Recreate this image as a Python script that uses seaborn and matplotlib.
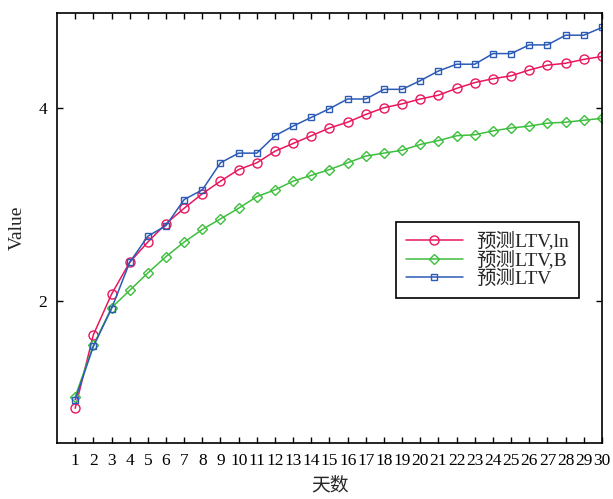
import matplotlib
matplotlib.use("Agg")
import matplotlib.pyplot as plt
import seaborn as sns
import pandas as pd

sns.set_theme(style="ticks")
plt.rcParams['font.family'] = ['Liberation Serif', 'Noto Sans CJK SC']

days = list(range(1, 31))
ltv_ln = [0.89, 1.65, 2.07, 2.40, 2.61, 2.80, 2.96, 3.11, 3.24, 3.36,
          3.43, 3.55, 3.63, 3.71, 3.79, 3.85, 3.93, 4.00, 4.04, 4.09,
          4.13, 4.20, 4.26, 4.30, 4.33, 4.39, 4.44, 4.46, 4.50, 4.53]
ltv_b = [1.01, 1.54, 1.93, 2.11, 2.29, 2.46, 2.61, 2.74, 2.85, 2.96,
         3.08, 3.15, 3.24, 3.30, 3.36, 3.43, 3.50, 3.53, 3.56, 3.62,
         3.66, 3.71, 3.72, 3.76, 3.79, 3.81, 3.84, 3.85, 3.87, 3.89]
ltv = [0.98, 1.53, 1.92, 2.40, 2.67, 2.78, 3.05, 3.15, 3.43, 3.53,
       3.53, 3.71, 3.81, 3.90, 3.99, 4.09, 4.09, 4.19, 4.19, 4.28,
       4.38, 4.45, 4.45, 4.56, 4.56, 4.65, 4.65, 4.75, 4.75, 4.83]

series = [
    ("预测LTV,ln", ltv_ln, "#E8175D", "o", 6.5),
    ("预测LTV,B", ltv_b, "#3DBE3D", "D", 5),
    ("预测LTV", ltv, "#2B5BB5", "s", 4.5),
]

fig = plt.figure(figsize=(6.13, 4.99), dpi=100)
ax = fig.add_axes([0.093, 0.112, 0.889, 0.862])

for name, vals, color, mk, ms in series:
    df = pd.DataFrame({"day": days, "value": vals})
    sns.lineplot(data=df, x="day", y="value", ax=ax, color=color, linewidth=1.1,
                 marker=mk, markersize=ms, markerfacecolor="none",
                 markeredgecolor=color, markeredgewidth=1.0, label=name)

ax.set_xlim(0, 30)
ax.set_ylim(0.53, 4.98)
ax.set_xticks(days)
ax.set_xticklabels([str(d) for d in days], fontsize=12.5)
ax.set_yticks([2, 4])
ax.set_yticklabels(["2", "4"], fontsize=12.5)
ax.tick_params(direction="in", top=True, right=True, length=4.5, width=1, colors="black", pad=7)
for s in ax.spines.values():
    s.set_color("black")
    s.set_linewidth(1.2)

ax.set_xlabel("天数", fontsize=13.5, labelpad=6)
ax.set_ylabel("Value", fontsize=14, labelpad=9)

leg = ax.legend(loc="lower left", bbox_to_anchor=(0.605, 0.315), fontsize=14,
                frameon=True, fancybox=False, edgecolor="black", framealpha=1,
                handlelength=2.9, borderpad=0.5, labelspacing=0.0, handletextpad=0.7)
leg.get_frame().set_linewidth(1.2)

fig.savefig("out.png", dpi=100)
